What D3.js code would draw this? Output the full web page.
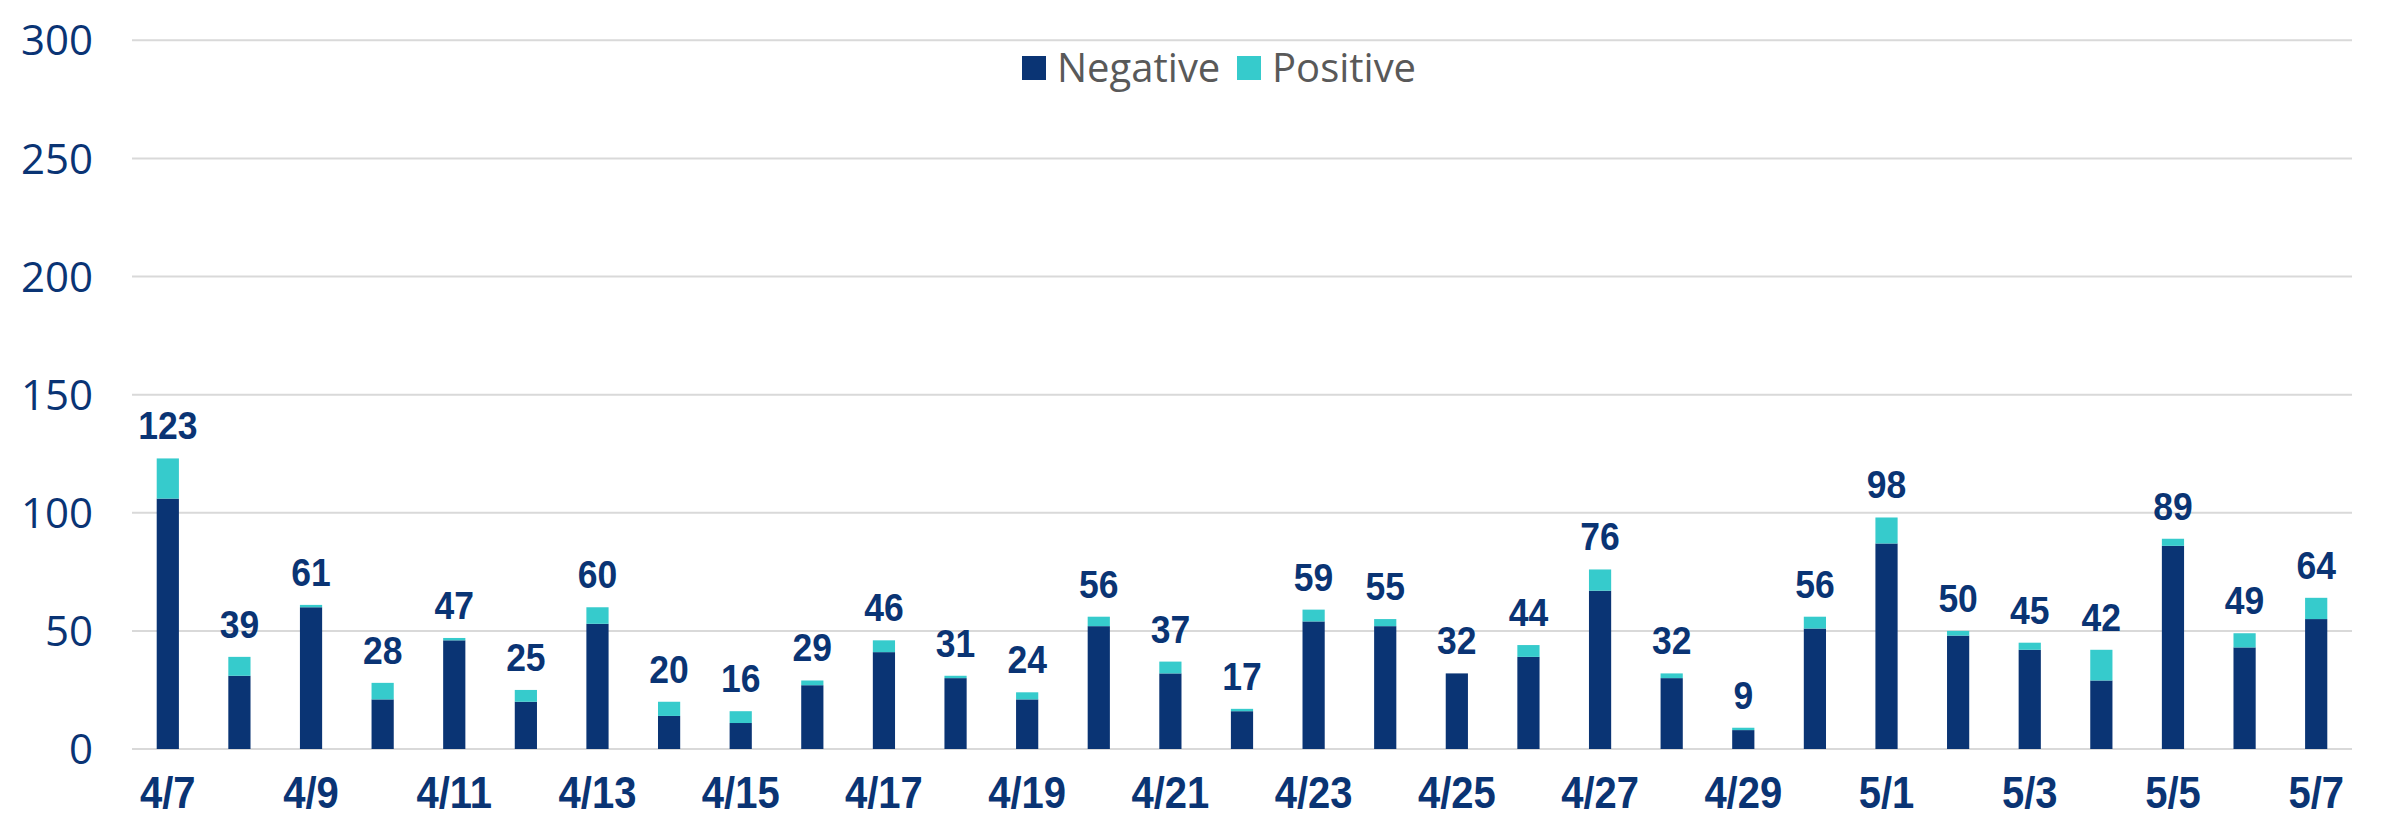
<!DOCTYPE html>
<html>
<head>
<meta charset="utf-8">
<script src="https://cdn.jsdelivr.net/npm/d3@7"></script>
<style>
  html, body { margin: 0; padding: 0; background: #fff; }
  svg { display: block; }
</style>
</head>
<body>
<div id="chart"></div>
<script>
const categories = ["4/7","4/8","4/9","4/10","4/11","4/12","4/13","4/14","4/15","4/16","4/17","4/18","4/19","4/20","4/21","4/22","4/23","4/24","4/25","4/26","4/27","4/28","4/29","4/30","5/1","5/2","5/3","5/4","5/5","5/6","5/7"];
const negative = [106,31,60,21,46,20,53,14,11,27,41,30,21,52,32,16,54,52,32,39,67,30,8,51,87,48,42,29,86,43,55];
const positive = [17,8,1,7,1,5,7,6,5,2,5,1,3,4,5,1,5,3,0,5,9,2,1,5,11,2,3,13,3,6,9];
const yTicks = [0,50,100,150,200,250,300];
const seriesNames = ["Negative","Positive"];

const W = 2386, H = 819;
const navy = "#0A3474", cyan = "#36CBCC";
const svg = d3.select("#chart").append("svg").attr("width", W).attr("height", H);

const x = d3.scaleBand().domain(categories).range([132, 2352]).paddingInner(0.69).paddingOuter(0.345);
const y = d3.scaleLinear().domain([0, 300]).range([749, 40.3]);

// gridlines
svg.append("g").selectAll("line").data(yTicks).join("line")
  .attr("x1", 132).attr("x2", 2352)
  .attr("y1", d => y(d)).attr("y2", d => y(d))
  .attr("stroke", "#D9D9D9").attr("stroke-width", 2);

// y tick labels
svg.append("g").selectAll("text").data(yTicks).join("text")
  .attr("x", 93).attr("y", d => y(d)).attr("dy", "0.36em")
  .attr("text-anchor", "end")
  .attr("font-family", "'Open Sans', sans-serif").attr("font-size", 42)
  .attr("fill", navy).text(d => d);

const rows = categories.map((c, i) => ({ cat: c, Negative: negative[i], Positive: positive[i] }));
const stack = d3.stack().keys(seriesNames)(rows);
const colors = { Negative: navy, Positive: cyan };

svg.append("g").selectAll("g").data(stack).join("g")
  .attr("fill", s => colors[s.key])
  .selectAll("rect").data(s => s).join("rect")
  .attr("x", d => x(d.data.cat)).attr("width", x.bandwidth())
  .attr("y", d => y(d[1])).attr("height", d => y(d[0]) - y(d[1]));

// total labels
svg.append("g").selectAll("text").data(rows).join("text")
  .attr("transform", d => `translate(${x(d.cat) + x.bandwidth() / 2},${y(d.Negative + d.Positive) - 19}) scale(1,1.1)`)
  .attr("text-anchor", "middle")
  .attr("font-family", "'Liberation Sans', Arial, sans-serif").attr("font-weight", "bold").attr("font-size", 35.5)
  .attr("fill", navy).text(d => d.Negative + d.Positive);

// x axis labels (every other)
svg.append("g").selectAll("text").data(categories.filter((c, i) => i % 2 === 0)).join("text")
  .attr("transform", d => `translate(${x(d) + x.bandwidth() / 2},808) scale(1,1.1)`)
  .attr("text-anchor", "middle")
  .attr("font-family", "'Liberation Sans', Arial, sans-serif").attr("font-weight", "bold").attr("font-size", 40)
  .attr("fill", navy).text(d => d);

// legend
const legend = svg.append("g");
const legendPos = [{ key: "Negative", sx: 1022, tx: 1057 }, { key: "Positive", sx: 1237, tx: 1272 }];
legend.selectAll("rect").data(legendPos).join("rect")
  .attr("x", d => d.sx).attr("y", 56).attr("width", 24).attr("height", 24)
  .attr("fill", d => colors[d.key]);
legend.selectAll("text").data(legendPos).join("text")
  .attr("x", d => d.tx).attr("y", 82)
  .attr("font-family", "'Open Sans', sans-serif").attr("font-size", 40)
  .attr("fill", "#595959").text(d => d.key);
</script>
</body>
</html>
